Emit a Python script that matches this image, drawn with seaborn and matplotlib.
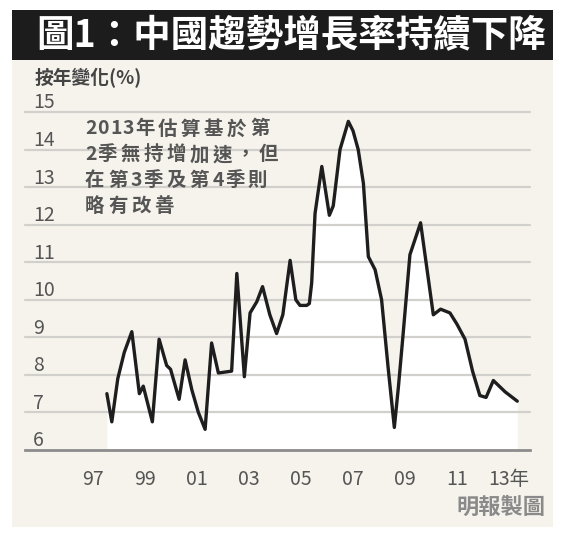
import numpy as np
import pandas as pd
import matplotlib
matplotlib.use('Agg')
import matplotlib.pyplot as plt
from matplotlib.patches import Rectangle
import seaborn as sns

# data (year as decimal, yoy change %)
time_pts = [1997.53, 1997.72, 1997.95, 1998.2, 1998.49, 1998.78, 1998.93, 1999.28,
            1999.54, 1999.83, 1999.98, 2000.31, 2000.54, 2000.8, 2001.05, 2001.31,
            2001.56, 2001.82, 2002.33, 2002.53, 2002.82, 2003.04, 2003.3, 2003.52,
            2003.8, 2004.06, 2004.3, 2004.58, 2004.8, 2004.96, 2005.22, 2005.32,
            2005.41, 2005.54, 2005.8, 2006.09, 2006.24, 2006.5, 2006.82, 2007.0,
            2007.2, 2007.4, 2007.59, 2007.85, 2008.1, 2008.35, 2008.59, 2008.75,
            2008.93, 2009.19, 2009.6, 2009.85, 2010.09, 2010.37, 2010.73, 2011.0,
            2011.31, 2011.6, 2011.88, 2012.12, 2012.4, 2012.85, 2013.32]
trend_growth = [7.5, 6.75, 7.9, 8.6, 9.15, 7.5, 7.7, 6.75,
                8.95, 8.25, 8.15, 7.35, 8.4, 7.6, 7.0, 6.55,
                8.85, 8.05, 8.1, 10.7, 7.95, 9.65, 9.95, 10.35,
                9.6, 9.1, 9.6, 11.05, 10.0, 9.85, 9.85, 9.9,
                10.45, 12.3, 13.55, 12.25, 12.5, 14.0, 14.75, 14.5,
                14.0, 13.1, 11.15, 10.8, 10.0, 8.2, 6.6, 7.7,
                9.1, 11.2, 12.05, 10.8, 9.6, 9.75, 9.65, 9.35,
                8.95, 8.1, 7.45, 7.4, 7.85, 7.55, 7.3]

x_ticks = [1997, 1999, 2001, 2003, 2005, 2007, 2009, 2011, 2013]
x_labels = ['97', '99', '01', '03', '05', '07', '09', '11', '13年']
y_ticks = [6, 7, 8, 9, 10, 11, 12, 13, 14, 15]

title = '圖1：中國趨勢增長率持續下降'
y_title = '按年變化(%)'
note_lines = ['2013年估算基於第', '2季無持增加速，但', '在第3季及第4季則', '略有改善']
credit = '明報製圖'

df = pd.DataFrame({'year': time_pts, 'growth': trend_growth})

sns.set_style('white')
plt.rcParams['font.family'] = ['Noto Sans CJK TC', 'DejaVu Sans']

W, H = 565, 540
fig = plt.figure(figsize=(W / 100, H / 100), dpi=100)
fig.patch.set_facecolor('white')


def px(x, y):
    return x / W, 1 - y / H


# cream panel and black title bar
fig.patches.append(Rectangle((12 / W, 13 / H), 541 / W, 468 / H, transform=fig.transFigure,
                             facecolor='#f6f3ec', edgecolor='none', zorder=-2))
fig.patches.append(Rectangle((12 / W, 480 / H), 541 / W, 50 / H, transform=fig.transFigure,
                             facecolor='#1c1c1c', edgecolor='none', zorder=-2))
fig.text(*px(36, 36), title, color='white', fontsize=27, fontweight='bold',
         ha='left', va='center')

ax = fig.add_axes([25 / W, 90 / H, 505 / W, 338 / H], zorder=1)
ax.set_facecolor('none')
ax.set_xlim(1994.38, 2013.81)
ax.set_ylim(6, 15)

# white area under the curve
ax.fill_between(df['year'], df['growth'], 6, color='white', lw=0, zorder=1)
for v in y_ticks[1:]:
    ax.axhline(v, color='#d2d0cc', lw=1.6, zorder=2, clip_on=False)
sns.lineplot(data=df, x='year', y='growth', ax=ax, color='#1e1e1e', lw=2.4,
             estimator=None, zorder=3)

for s in ['top', 'right', 'left']:
    ax.spines[s].set_visible(False)
ax.spines['bottom'].set_color('#8c8c8c')
ax.spines['bottom'].set_linewidth(2)

ax.set_xticks(x_ticks)
ax.set_xticklabels(x_labels)
ax.tick_params(axis='x', direction='out', length=9, width=1.6, color='#9a9a9a',
               pad=5, labelsize=14, labelcolor='#555555')
ax.set_yticks([])
ax.set_xlabel('')
ax.set_ylabel('')

for v in y_ticks:
    ax.annotate(str(v), xy=(0.016, v), xycoords=('axes fraction', 'data'),
                xytext=(0, -1), textcoords='offset points', ha='left', va='bottom',
                fontsize=14, color='#555555')

fig.text(*px(35, 78), y_title, fontsize=13.5, color='#444444', fontweight='bold',
         ha='left', va='center')

# note, drawn char by char to keep the wide letter spacing of the print
for i, line in enumerate(note_lines):
    xpos = 85
    ypos = 129 + i * 25.7
    for ch in line:
        fig.text(*px(xpos, ypos), ch, fontsize=14, color='#555555', fontweight='bold',
                 ha='left', va='center')
        xpos += 23 if ord(ch) > 0x2E80 else 12.5

fig.text(*px(545, 507), credit, fontsize=16, color='#8a8a8a', fontweight='bold',
         ha='right', va='center')

fig.savefig('out.png', dpi=100)
